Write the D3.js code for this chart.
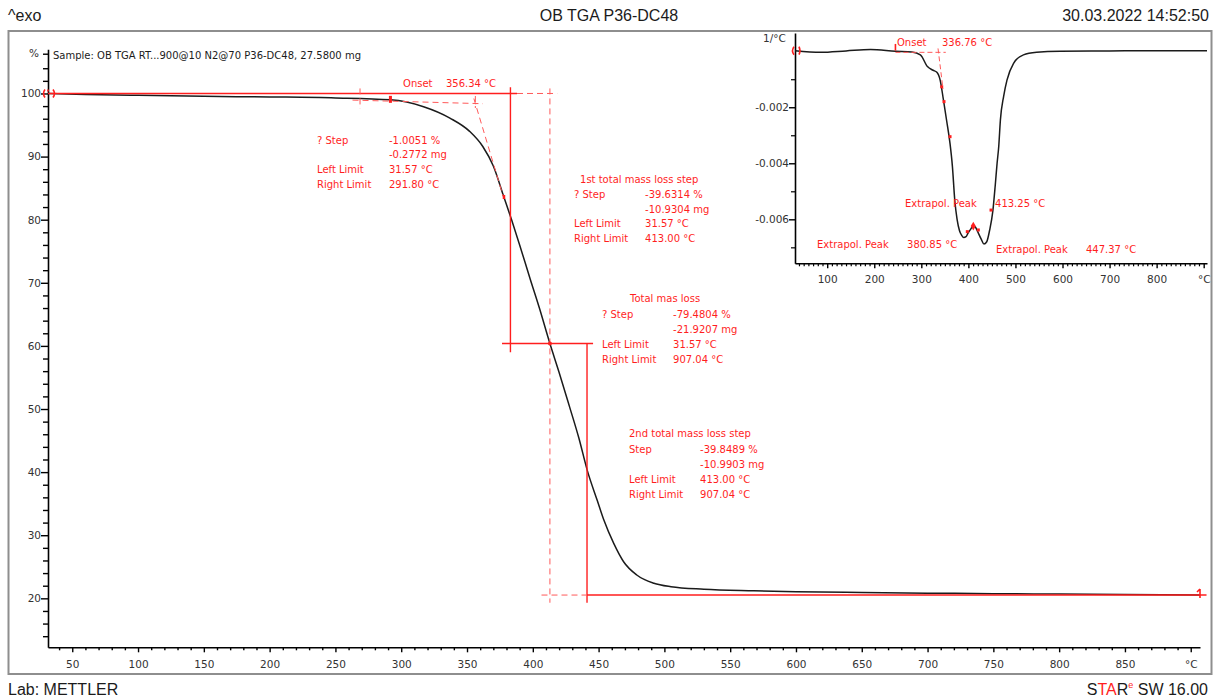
<!DOCTYPE html>
<html>
<head>
<meta charset="utf-8">
<title>OB TGA P36-DC48</title>
<script src="https://cdn.jsdelivr.net/npm/d3@7"></script>
<style>
  html, body { margin: 0; padding: 0; background: #fff; }
  svg { display: block; }
  text { font-family: "DejaVu Sans", sans-serif; }
</style>
</head>
<body>
<svg id="chart" width="1218" height="697"></svg>
<script>
// ---- TGA mass curve: temperature (°C) vs. remaining mass (%) ----
const tgaTemp = [31.57, 60, 100, 150, 200, 250, 291.8, 317, 337, 352, 362, 370, 378, 384, 390, 398, 405, 413,
                 420, 428, 435, 441.5, 449, 454, 461.5, 469, 479, 492, 505, 530, 568, 600, 650, 700, 750, 800, 850, 907.04];
const tgaMass = [100.00, 99.85, 99.70, 99.55, 99.45, 99.30, 98.99, 97.9, 96.1, 94.0, 91.6, 88.5, 83.6, 79.9, 76.0, 70.6, 66.0, 60.37,
                 55.8, 50.3, 45.4, 40.2, 35.5, 32.4, 28.7, 25.8, 23.7, 22.4, 21.85, 21.45, 21.2, 21.05, 20.92, 20.82, 20.74, 20.67, 20.6, 20.52];

// ---- DTG curve (first derivative, 1/°C) ----
const dtgTemp = [31.57, 86, 140, 192, 245, 280, 298, 313, 325, 333, 340, 347, 354, 361, 366, 371, 376, 381, 386, 390, 395,
                 399, 405, 410, 415, 420, 427, 433, 439, 445, 452, 457, 461, 464.5, 468, 475, 482, 496, 517, 545, 595, 700, 800, 907.04];
const dtgRate = [0.00002, -0.00004, 0.00001, 0.00006, 0.0, -0.00003, -0.00013, -0.00055, -0.00068, -0.00075, -0.00103, -0.00174,
                 -0.0025, -0.0033, -0.0041, -0.0053, -0.0060, -0.0064, -0.00658, -0.00665, -0.00662, -0.0065, -0.00635, -0.00624,
                 -0.00628, -0.00645, -0.0067, -0.00688, -0.0068, -0.0064, -0.0057, -0.0048, -0.0040, -0.0034, -0.00246, -0.0016,
                 -0.00103, -0.00043, -0.00013, -0.00004, 0.0, 0.00001, 0.00002, 0.00002];

// ---- Axis ticks ----
const tempTicksMain = [50, 100, 150, 200, 250, 300, 350, 400, 450, 500, 550, 600, 650, 700, 750, 800, 850, 900];
const massTicks = [20, 30, 40, 50, 60, 70, 80, 90, 100];
const tempTicksInset = [100, 200, 300, 400, 500, 600, 700, 800, 900];
const rateTicks = [-0.002, -0.004, -0.006];
const rateTickLabels = ["-0.002", "-0.004", "-0.006"];

// ---- Evaluation results ----
const onsetMain = 356.34;
const onsetInset = 336.76;
const peakTemps = [380.85, 413.25, 447.37];
const step1 = { title: "", rows: [["? Step", "-1.0051 %"], ["", "-0.2772 mg"], ["Left Limit", "31.57 °C"], ["Right Limit", "291.80 °C"]] };
const step2 = { title: "1st total mass loss step", rows: [["? Step", "-39.6314 %"], ["", "-10.9304 mg"], ["Left Limit", "31.57 °C"], ["Right Limit", "413.00 °C"]] };
const step3 = { title: "Total mas loss", rows: [["? Step", "-79.4804 %"], ["", "-21.9207 mg"], ["Left Limit", "31.57 °C"], ["Right Limit", "907.04 °C"]] };
const step4 = { title: "2nd total mass loss step", rows: [["Step", "-39.8489 %"], ["", "-10.9903 mg"], ["Left Limit", "413.00 °C"], ["Right Limit", "907.04 °C"]] };

const RED = "#ff1e1e";
const INK = "#1b1b1b";
const svg = d3.select("#chart");

// ---- Page header / footer ----
const head = svg.append("g").attr("font-family", "'Liberation Sans', Arial, sans-serif").attr("font-size", 16).attr("fill", INK);
head.append("text").attr("x", 8).attr("y", 21).style("font-family", "'Liberation Sans', Arial, sans-serif").text("^exo");
head.append("text").attr("x", 609).attr("y", 21).attr("text-anchor", "middle").style("font-family", "'Liberation Sans', Arial, sans-serif").text("OB TGA P36-DC48");
head.append("text").attr("x", 1209).attr("y", 21).attr("text-anchor", "end").style("font-family", "'Liberation Sans', Arial, sans-serif").text("30.03.2022 14:52:50");
head.append("text").attr("x", 8).attr("y", 695).style("font-family", "'Liberation Sans', Arial, sans-serif").text("Lab: METTLER");
const star = head.append("text").attr("x", 1208).attr("y", 695).attr("text-anchor", "end").style("font-family", "'Liberation Sans', Arial, sans-serif");
star.append("tspan").attr("fill", INK).text("S");
star.append("tspan").attr("fill", RED).text("TA");
star.append("tspan").attr("fill", INK).text("R");
star.append("tspan").attr("fill", RED).attr("font-size", 9).attr("dy", -7).text("e");
star.append("tspan").attr("fill", INK).attr("dy", 7).text(" SW 16.00");

// ---- Frame ----
svg.append("rect").attr("x", 8.5).attr("y", 31).attr("width", 1203).attr("height", 643)
  .attr("fill", "none").attr("stroke", "#8e8e8e").attr("stroke-width", 2);

// =================== Main TGA plot ===================
const xM = d3.scaleLinear().domain([31.57, 907.04]).range([48, 1200]);
const yM = d3.scaleLinear().domain([12.24, 107]).range([647.3, 49.3]);

function styleAxis(g, fs) {
  g.attr("font-family", null).attr("font-size", null);
  g.selectAll("path.domain").attr("stroke", "#000").attr("stroke-width", 1.6);
  g.selectAll(".tick line").attr("stroke", "#000").attr("stroke-width", 1.4);
  g.selectAll(".tick text").attr("fill", "#333").style("font-size", fs + "px").style("font-family", "'DejaVu Sans', sans-serif");
}

const minorT = d3.range(40, 901, 10).filter(t => t % 50 !== 0);
svg.append("g").attr("transform", "translate(0,647.3)")
  .call(d3.axisBottom(xM).tickValues(minorT).tickSize(3).tickFormat(""))
  .call(g => { g.select(".domain").remove(); g.selectAll(".tick line").attr("stroke", "#000").attr("stroke-width", 1.4); });
const gxM = svg.append("g").attr("transform", "translate(0,647.3)")
  .call(d3.axisBottom(xM).tickValues(tempTicksMain).tickSize(5).tickSizeOuter(0)
    .tickFormat(d => d === 900 ? "°C" : d));
styleAxis(gxM, 10.5);
gxM.selectAll(".tick text").attr("y", 21).attr("dy", 0);

const minorM = d3.range(14, 105, 2).filter(v => v % 10 !== 0);
svg.append("g").attr("transform", "translate(48,0)")
  .call(d3.axisLeft(yM).tickValues(minorM.concat([106.3])).tickSize(5).tickFormat(""))
  .call(g => { g.select(".domain").remove(); g.selectAll(".tick line").attr("stroke", "#000").attr("stroke-width", 1.4); });
const gyM = svg.append("g").attr("transform", "translate(48,0)")
  .call(d3.axisLeft(yM).tickValues(massTicks).tickSize(7).tickPadding(0).tickSizeOuter(0));
styleAxis(gyM, 10.5);
svg.append("text").attr("x", 39).attr("y", yM(106.3)).attr("dy", "0.32em").attr("text-anchor", "end")
  .attr("fill", "#333").style("font-size", "10.5px").text("%");

svg.append("text").attr("x", 53).attr("y", 58.5).attr("fill", INK).style("font-size", "10px")
  .text("Sample: OB TGA RT...900@10 N2@70 P36-DC48, 27.5800 mg");

// TGA curve
const tga = tgaTemp.map((t, i) => [t, tgaMass[i]]);
svg.append("path").datum(tga)
  .attr("fill", "none").attr("stroke", INK).attr("stroke-width", 1.5)
  .attr("d", d3.line().x(d => xM(d[0])).y(d => yM(d[1])).curve(d3.curveMonotoneX));

// Step evaluation construction lines (temperature, mass)
const mainSolid = [
  [[31.57, 100], [388, 100]],
  [[383, 101], [383, 59]],
  [[376.6, 60.37], [445.8, 60.37]],
  [[441.2, 60.37], [441.2, 19.3]],
  [[441.2, 20.52], [912, 20.52]]
];
const mainDashed = [
  [[388, 100], [418.5, 100]],
  [[413, 100.8], [413, 19.3]],
  [[406.6, 20.52], [441.2, 20.52]],
  [[268.7, 100.8], [268.7, 97.6]],
  [[263, 98.95], [362, 98.38]],
  [[onsetMain, 99.6], [onsetMain, 97.7]],
  [[355.2, 99.2], [377.5, 83.7]]
];
const seg = d3.line().x(d => xM(d[0])).y(d => yM(d[1]));
svg.append("g").selectAll("path").data(mainSolid).join("path")
  .attr("d", seg).attr("fill", "none").attr("stroke", RED).attr("stroke-width", 1.4);
svg.append("g").selectAll("path").data(mainDashed).join("path")
  .attr("d", seg).attr("fill", "none").attr("stroke", "#ff5a5a").attr("stroke-width", 1)
  .attr("stroke-dasharray", "6,4");

// curve markers
const x0 = xM(31.57), y0 = yM(100);
svg.append("path").attr("d", `M${x0-3},${y0-4} Q${x0-6},${y0} ${x0-3},${y0+4} M${x0+5},${y0-4} Q${x0+8},${y0} ${x0+5},${y0+4} M${x0},${y0-4} L${x0},${y0-2}`)
  .attr("fill", "none").attr("stroke", RED).attr("stroke-width", 1.6);
svg.append("rect").attr("x", xM(291.8) - 1.5).attr("y", yM(98.99) - 4).attr("width", 3).attr("height", 7).attr("fill", RED);
svg.append("rect").attr("x", xM(377.9) - 1).attr("y", yM(83.6) - 2).attr("width", 2.5).attr("height", 4).attr("fill", RED);
svg.append("circle").attr("cx", xM(413)).attr("cy", yM(60.37)).attr("r", 2).attr("fill", RED);
const xe = xM(907.04), ye = yM(20.52);
svg.append("path").attr("d", `M${xe},${ye-6} L${xe},${ye+3} M${xe-3},${ye-3} L${xe},${ye-6}`)
  .attr("fill", "none").attr("stroke", RED).attr("stroke-width", 1.6);

// annotation texts
const ann = svg.append("g").attr("fill", RED).style("font-size", "10px");
ann.append("text").attr("x", xM(301.4)).attr("y", yM(101.03)).text("Onset");
ann.append("text").attr("x", xM(334.0)).attr("y", yM(101.03)).text(onsetMain.toFixed(2) + " °C");

function stepBlock(step, titleT, titleV, labelT, valueT, rowV) {
  if (step.title) ann.append("text").attr("x", xM(titleT)).attr("y", yM(titleV)).text(step.title);
  step.rows.forEach((r, i) => {
    const y = yM(rowV) + i * 14.8;
    if (r[0]) ann.append("text").attr("x", xM(labelT)).attr("y", y).text(r[0]);
    ann.append("text").attr("x", xM(valueT)).attr("y", y).text(r[1]);
  });
}
stepBlock(step1, 0, 0, 236.0, 290.7, 92.06);
stepBlock(step2, 435.9, 85.78, 431.3, 485.3, 83.48);
stepBlock(step3, 473.9, 66.98, 452.6, 506.6, 64.35);
stepBlock(step4, 473.1, 45.5, 473.1, 527.1, 42.97);

// =================== DTG inset ===================
const xI = d3.scaleLinear().domain([31.57, 907.04]).range([795, 1207]);
const yI = d3.scaleLinear().domain([-0.00757, 0.00065]).range([263.3, 33]);

const minorTI = d3.range(40, 901, 10).filter(t => t % 100 !== 0);
svg.append("g").attr("transform", "translate(0,263.3)")
  .call(d3.axisBottom(xI).tickValues(minorTI).tickSize(3).tickFormat(""))
  .call(g => { g.select(".domain").remove(); g.selectAll(".tick line").attr("stroke", "#000").attr("stroke-width", 1.2); });
const gxI = svg.append("g").attr("transform", "translate(0,263.3)")
  .call(d3.axisBottom(xI).tickValues(tempTicksInset).tickSize(5).tickSizeOuter(0)
    .tickFormat(d => d === 900 ? "°C" : d));
styleAxis(gxI, 10.5);
gxI.selectAll(".tick text").attr("y", 20).attr("dy", 0);

svg.append("g").attr("transform", "translate(795,0)")
  .call(d3.axisLeft(yI).tickValues([-0.001, -0.003, -0.005, -0.007]).tickSize(4).tickFormat(""))
  .call(g => { g.select(".domain").remove(); g.selectAll(".tick line").attr("stroke", "#000").attr("stroke-width", 1.2); });
const gyI = svg.append("g").attr("transform", "translate(795,0)")
  .call(d3.axisLeft(yI).tickValues(rateTicks).tickSize(6).tickPadding(0).tickSizeOuter(0)
    .tickFormat((d, i) => rateTickLabels[i]));
styleAxis(gyI, 10.5);
svg.append("text").attr("x", 763).attr("y", 42).attr("fill", "#333").style("font-size", "10.5px").text("1/°C");

const dtg = dtgTemp.map((t, i) => [t, dtgRate[i]]);
svg.append("path").datum(dtg)
  .attr("fill", "none").attr("stroke", INK).attr("stroke-width", 1.5)
  .attr("d", d3.line().x(d => xI(d[0])).y(d => yI(d[1])).curve(d3.curveMonotoneX));

// onset construction on the DTG curve
const segI = d3.line().x(d => xI(d[0])).y(d => yI(d[1]));
const insetDashed = [
  [[245, -0.00004], [352, -0.00004]],
  [[335.5, 0.0001], [346, -0.00135]]
];
svg.append("g").selectAll("path").data(insetDashed).join("path")
  .attr("d", segI).attr("fill", "none").attr("stroke", "#ff5a5a").attr("stroke-width", 1)
  .attr("stroke-dasharray", "5,3");
svg.append("path").attr("d", `M${xI(245)},${yI(0.00026)} L${xI(245)},${yI(0.00002)}`)
  .attr("stroke", RED).attr("stroke-width", 1.6);
const xs = xI(31.57), ys = yI(0.00002);
svg.append("path").attr("d", `M${xs-1},${ys-4} Q${xs-4},${ys} ${xs-1},${ys+4} M${xs+4},${ys-4} Q${xs+6},${ys} ${xs+4},${ys+4}`)
  .attr("fill", "none").attr("stroke", RED).attr("stroke-width", 1.6);

const insetDots = [[343.3, -0.00127], [348.2, -0.0018], [361.0, -0.00305], [397.7, -0.00644], [421.1, -0.00638], [448.1, -0.00567]];
svg.append("g").selectAll("rect").data(insetDots).join("rect")
  .attr("x", d => xI(d[0]) - 1.5).attr("y", d => yI(d[1]) - 1.5).attr("width", 3).attr("height", 3).attr("fill", RED);
svg.append("path").attr("d", d3.symbol(d3.symbolDiamond, 22)())
  .attr("transform", `translate(${xI(410.4)},${yI(-0.00624)})`).attr("fill", RED);

const annI = svg.append("g").attr("fill", RED).style("font-size", "10px");
annI.append("text").attr("x", xI(248.3)).attr("y", yI(0.000186)).text("Onset");
annI.append("text").attr("x", xI(343.9)).attr("y", yI(0.000186)).text(onsetInset.toFixed(2) + " °C");
annI.append("text").attr("x", xI(265.3)).attr("y", yI(-0.00556)).text("Extrapol. Peak");
annI.append("text").attr("x", xI(456.6)).attr("y", yI(-0.00556)).text(peakTemps[1].toFixed(2) + " °C");
annI.append("text").attr("x", xI(78.3)).attr("y", yI(-0.00703)).text("Extrapol. Peak");
annI.append("text").attr("x", xI(269.6)).attr("y", yI(-0.00703)).text(peakTemps[0].toFixed(2) + " °C");
annI.append("text").attr("x", xI(458.7)).attr("y", yI(-0.00719)).text("Extrapol. Peak");
annI.append("text").attr("x", xI(649.9)).attr("y", yI(-0.00719)).text(peakTemps[2].toFixed(2) + " °C");
</script>
</body>
</html>
